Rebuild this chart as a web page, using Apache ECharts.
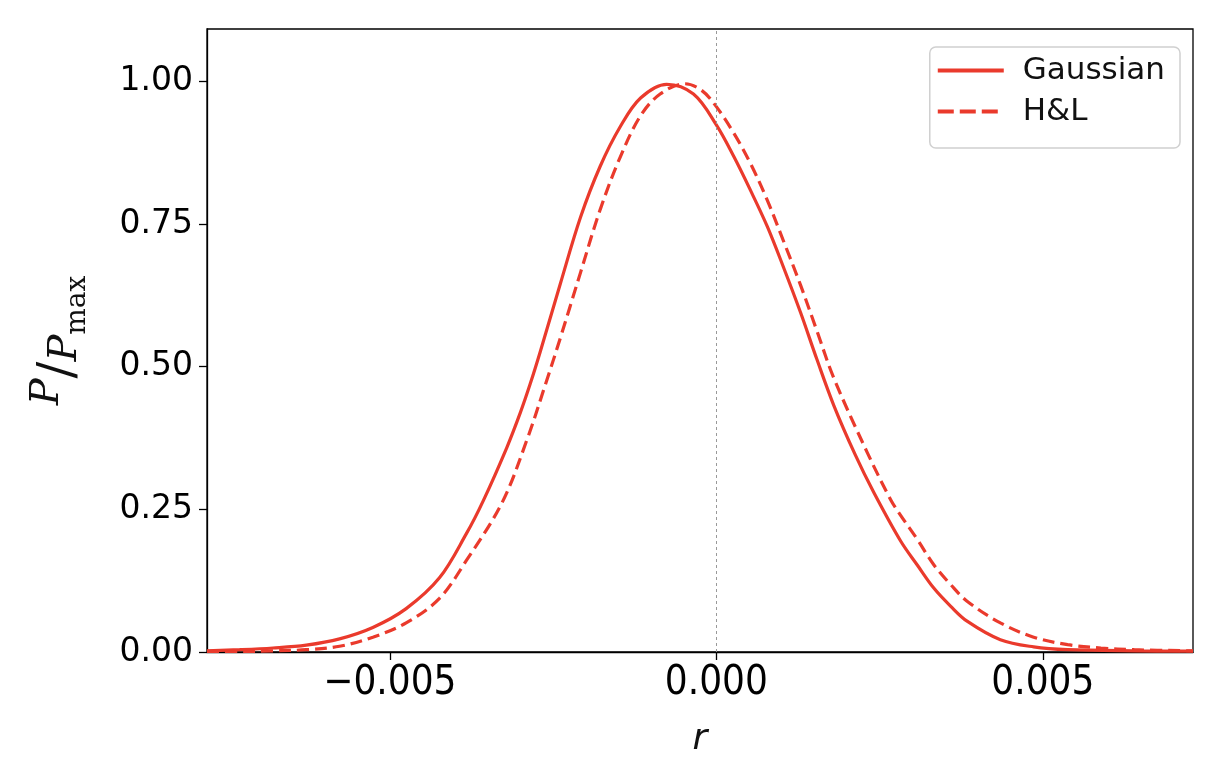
<!DOCTYPE html>
<html>
<head>
<meta charset="utf-8">
<script src="https://cdn.jsdelivr.net/npm/echarts@6/dist/echarts.min.js"></script>
<style>html,body{margin:0;padding:0;background:#fff;}#c{width:1222px;height:766px;}</style>
</head>
<body>
<div id="c"></div>
<script>
// r values and P/Pmax
const gaussR = [-0.0078,-0.0073,-0.00679,-0.00628,-0.00577,-0.00526,-0.00475,-0.00424,-0.00383,-0.00357,-0.00321,-0.0030,-0.00285,-0.0027,-0.00239,-0.00208,-0.00178,-0.00147,-0.00116,-0.00076,-0.00035,0.0,0.00027,0.00052,0.00078,0.00103,0.00129,0.00154,0.0018,0.00213,0.00241,0.00282,0.00308,0.00333,0.00359,0.00384,0.00435,0.00486,0.00538,0.0064,0.0073];
const gaussP = [0.002,0.004,0.007,0.012,0.023,0.043,0.076,0.130,0.207,0.265,0.358,0.420,0.470,0.525,0.645,0.762,0.851,0.921,0.971,0.995,0.978,0.924,0.868,0.810,0.746,0.674,0.595,0.513,0.432,0.345,0.280,0.195,0.152,0.112,0.080,0.054,0.0215,0.009,0.004,0.002,0.0015];
const hlR = [-0.0078,-0.0073,-0.00679,-0.00628,-0.00577,-0.00526,-0.00475,-0.00424,-0.00383,-0.00328,-0.0029,-0.0026,-0.00239,-0.00208,-0.00178,-0.00147,-0.00116,-0.00086,-0.00048,-0.00022,0.0,0.00027,0.00052,0.00078,0.00103,0.00129,0.00154,0.0018,0.00231,0.00267,0.00282,0.00308,0.00333,0.00359,0.00384,0.00435,0.00486,0.00538,0.00589,0.0064,0.0073];
const hlP = [0.001,0.001,0.002,0.004,0.010,0.026,0.051,0.094,0.160,0.262,0.372,0.475,0.550,0.665,0.775,0.868,0.940,0.978,0.996,0.984,0.956,0.909,0.857,0.792,0.720,0.643,0.563,0.480,0.350,0.267,0.240,0.197,0.153,0.118,0.089,0.051,0.026,0.013,0.007,0.004,0.002];
const xTicks = [-0.005, 0.0, 0.005];
const yTicks = [0, 0.25, 0.5, 0.75, 1.0];
const seriesNames = ['Gaussian', 'H&L'];

const red = '#ea3a2c';
const pair = (xs, ys) => xs.map((x, i) => [x, ys[i]]);
const chart = echarts.init(document.getElementById('c'), null, {renderer: 'canvas'});
chart.setOption({
  animation: false,
  backgroundColor: '#fff',
  grid: {left: 207, right: 29, top: 29, bottom: 114, show: true, borderColor: '#000', borderWidth: 1.3, backgroundColor: 'transparent'},
  legend: {
    right: 42, top: 47, orient: 'vertical',
    data: [
      {name: seriesNames[0], lineStyle: {width: 4, type: 'solid'}},
      {name: seriesNames[1], lineStyle: {width: 4, type: [16, 6]}}
    ],
    itemWidth: 66, itemHeight: 14, itemGap: 10,
    itemStyle: {opacity: 0},
    backgroundColor: '#fff', borderColor: '#d0d0d0', borderWidth: 1.5, borderRadius: 6,
    padding: [8, 15, 21, 6],
    textStyle: {fontFamily: 'DejaVu Sans', fontSize: 31, color: '#111', padding: [0, 0, 0, 14]}
  },
  xAxis: {
    type: 'value', min: -0.0078, max: 0.0073,
    name: 'r', nameLocation: 'middle', nameGap: 70,
    nameTextStyle: {fontFamily: 'DejaVu Sans', fontStyle: 'italic', fontSize: 36, color: '#111'},
    axisLine: {show: true, onZero: false, lineStyle: {color: '#000', width: 1.3}},
    axisTick: {show: true, length: 8, inside: false, customValues: xTicks, lineStyle: {color: '#000', width: 1.3}},
    axisLabel: {show: true, margin: 12, customValues: xTicks, fontFamily: "'Liberation Sans Narrow', 'DejaVu Sans Condensed', sans-serif", fontSize: 40, color: '#000',
      formatter: v => (v < 0 ? '\u2212' : '') + Math.abs(v).toFixed(3)},
    splitLine: {show: false}
  },
  yAxis: {
    type: 'value', min: 0, max: 1.092,
    name: '{a|P}{s|/}{b|P}{m|max}', nameLocation: 'middle', nameGap: 115, nameRotate: 90,
    nameTextStyle: {
      color: '#111',
      rich: {
        a: {fontFamily: 'DejaVu Serif', fontStyle: 'italic', fontSize: 40, verticalAlign: 'top', lineHeight: 64},
        s: {fontFamily: 'DejaVu Serif', fontSize: 50, verticalAlign: 'middle', lineHeight: 64},
        b: {fontFamily: 'DejaVu Serif', fontStyle: 'italic', fontSize: 40, verticalAlign: 'bottom', lineHeight: 64, padding: [0, 0, 6, 0]},
        m: {fontFamily: 'DejaVu Serif', fontSize: 28, verticalAlign: 'bottom', lineHeight: 64}
      }
    },
    axisLine: {show: true, onZero: false, lineStyle: {color: '#000', width: 1.3}},
    axisTick: {show: true, length: 8, inside: false, customValues: yTicks, lineStyle: {color: '#000', width: 1.3}},
    axisLabel: {show: true, margin: 14, customValues: yTicks, fontFamily: 'DejaVu Sans', fontSize: 33, color: '#000',
      formatter: v => v.toFixed(2)},
    splitLine: {show: false}
  },
  series: [
    {
      name: seriesNames[0], type: 'line', data: pair(gaussR, gaussP),
      showSymbol: false, symbol: 'none', smooth: 0.35, clip: true,
      lineStyle: {color: red, width: 3.2, type: 'solid'}, itemStyle: {color: red},
      markLine: {
        silent: true, symbol: 'none', label: {show: false},
        lineStyle: {color: '#999', width: 1, type: [3, 3]},
        data: [{xAxis: 0}]
      }
    },
    {
      name: seriesNames[1], type: 'line', data: pair(hlR, hlP),
      showSymbol: false, symbol: 'none', smooth: 0.35, clip: true,
      lineStyle: {color: red, width: 3.2, type: [12, 6]}, itemStyle: {color: red}
    }
  ]
});
</script>
</body>
</html>
